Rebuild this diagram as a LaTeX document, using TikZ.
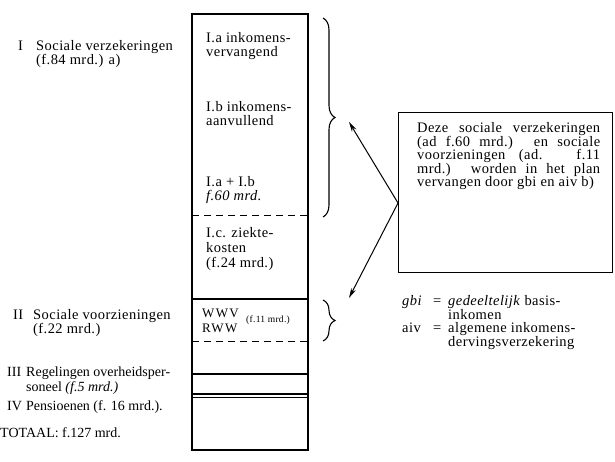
\documentclass[tikz,border=0pt]{standalone}
\usepackage{fontspec}
\setmainfont{Liberation Serif}[LetterSpace=3]
\usetikzlibrary{decorations.pathreplacing,arrows.meta}

\tikzset{
  txt/.style={anchor=base west, inner sep=0pt,
    font=\fontsize{14.5}{14}\selectfont},
  tighttxt/.style={txt, font=\fontsize{14}{14}\selectfont\addfontfeatures{LetterSpace=0}},
  smalltxt/.style={anchor=base west, inner sep=0pt,
    font=\fontsize{9.5}{10}\selectfont},
  capstxt/.style={txt, font=\fontsize{13}{14}\selectfont\addfontfeatures{LetterSpace=10}},
  barline/.style={line width=1.1pt},
  heavyline/.style={line width=2pt},
  splitline/.style={line width=1pt, dash pattern=on 7pt off 5pt},
  bracket/.style={line width=1.1pt, decorate,
    decoration={brace, amplitude=12pt, aspect=0.5}},
  pointer/.style={line width=1pt, -{Stealth[length=10pt,width=5pt]}},
}

\begin{document}
\begin{tikzpicture}[x=1pt,y=-1pt]
\useasboundingbox (0,0) rectangle (615,462);

% stacked column
\draw[barline] (192,14) rectangle (308,450);
\draw[heavyline] (192,14) -- (308,14);
\draw[splitline] (192,216) -- (308,216);
\draw[barline] (192,299) -- (308,299);
\draw[splitline] (192,341) -- (308,341);
\draw[heavyline] (192,374) -- (308,374);
\draw[barline] (192,394) -- (308,394);
\draw[barline] (192,397.5) -- (308,397.5);

% labels left of the column
\node[txt] (l1) at (18,51) {I};
\node[txt] (l1a) at (36,51) {Sociale verzekeringen};
\node[txt] (l1b) at (36,65) {(f.84 mrd.) a)};
\node[txt] (l2) at (13,319) {II};
\node[txt] (l2a) at (33,319) {Sociale voorzieningen};
\node[txt] (l2b) at (33,333) {(f.22 mrd.)};
\node[tighttxt] (l3) at (7,376) {III};
\node[tighttxt] (l3a) at (26,376) {Regelingen overheidsper-};
\node[tighttxt] (l3b) at (26,391) {soneel \textit{(f.5 mrd.)}};
\node[tighttxt] (l4) at (7,410) {IV};
\node[tighttxt] (l4a) at (26,410) {Pensioenen (f. 16 mrd.).};
\node[tighttxt] (tot) at (0,437) {TOTAAL: f.127 mrd.};

% texts inside the column
\node[txt] (ia1) at (206,43) {I.a inkomens-};
\node[txt] (ia2) at (206,57) {vervangend};
\node[txt] (ib1) at (206,112) {I.b inkomens-};
\node[txt] (ib2) at (206,126) {aanvullend};
\node[txt] (iab1) at (206,187) {I.a + I.b};
\node[txt] (iab2) at (206,201) {\textit{f.60 mrd.}};
\node[txt] (ic1) at (206,237) {I.c. ziekte-};
\node[txt] (ic2) at (206,252) {kosten};
\node[txt] (ic3) at (206,267) {(f.24 mrd.)};
\node[capstxt] (wwv) at (202,317) {WWV};
\node[capstxt] (rww) at (202,332) {RWW};
\node[smalltxt] (f11) at (246,322) {(f.11 mrd.)};

% braces
\draw[bracket] (323,18) -- (323,217);
\draw[bracket] (323,300) -- (323,341);

% explanation box
\node[draw, line width=1.1pt, minimum width=214pt, minimum height=160pt,
  anchor=north west, inner sep=0pt] (box) at (398,112) {};
\node[txt] (bx1) at (417,133) {\makebox[183pt][s]{Deze sociale verzekeringen}};
\node[txt] (bx2) at (417,147) {\makebox[183pt][s]{(ad f.60 mrd.) en sociale}};
\node[txt] (bx3) at (417,160) {\makebox[183pt][s]{voorzieningen (ad. f.11}};
\node[txt] (bx4) at (417,174) {\makebox[183pt][s]{mrd.) worden in het plan}};
\node[txt] (bx5) at (417,187) {vervangen door gbi en aiv b)};

% arrows from the box to both braces
\coordinate (v) at (398,203);
\coordinate (up) at (349,122);
\coordinate (down) at (349,298);
\draw[pointer] (v) -- (up);
\draw[pointer] (v) -- (down);

% legend
\node[txt] (g1) at (402,305) {\textit{gbi}};
\node[txt] (g2) at (433,305) {=};
\node[txt] (g3) at (448,305) {\textit{gedeeltelijk} basis-};
\node[txt] (g4) at (448,319) {inkomen};
\node[txt] (a1) at (402,332) {aiv};
\node[txt] (a2) at (433,332) {=};
\node[txt] (a3) at (448,332) {algemene inkomens-};
\node[txt] (a4) at (448,346) {dervingsverzekering};
\end{tikzpicture}
\end{document}
